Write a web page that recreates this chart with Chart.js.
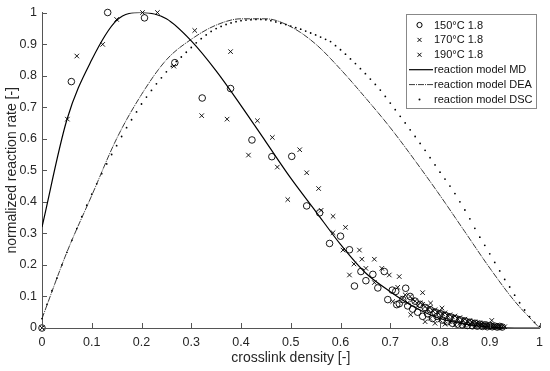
<!DOCTYPE html>
<html lang="en">
<head>
  <meta charset="UTF-8">
  <title>Normalized reaction rate vs crosslink density</title>
  <style>
    body {
      margin: 0;
      padding: 0;
      background: #fff;
    }
    .chart-container {
      width: 550px;
      height: 371px;
    }
  </style>
</head>
<body>

<div class="chart-container">
  <canvas id="rateChart"></canvas>
</div>

<script src="https://cdn.jsdelivr.net/npm/chart.js"></script>
<script>
  // measured points, 150 °C (circles)
  const t150x = [0, 0.059, 0.132, 0.206, 0.267, 0.322, 0.379, 0.422, 0.462, 0.502, 0.532, 0.558, 0.578, 0.60, 0.618,
    0.628, 0.641, 0.651, 0.665, 0.675, 0.688, 0.695, 0.704, 0.711, 0.713, 0.718, 0.731,
    0.725, 0.735, 0.74, 0.745, 0.75, 0.755, 0.76, 0.765, 0.77, 0.775, 0.78, 0.785, 0.79, 0.794, 0.80, 0.805, 0.81,
    0.815, 0.82, 0.825, 0.83, 0.835, 0.84, 0.845, 0.85, 0.855, 0.86, 0.865, 0.87, 0.875, 0.88, 0.885, 0.89,
    0.895, 0.90, 0.905, 0.91, 0.915, 0.92, 0.925];
  const t150y = [0, 0.781, 1.0, 0.983, 0.841, 0.729, 0.759, 0.596, 0.543, 0.544, 0.387, 0.365, 0.268, 0.291, 0.248,
    0.133, 0.179, 0.15, 0.17, 0.127, 0.179, 0.09, 0.12, 0.116, 0.074, 0.077, 0.126,
    0.09, 0.07, 0.1, 0.06, 0.085, 0.05, 0.075, 0.037, 0.065, 0.045, 0.058, 0.03, 0.05, 0.037, 0.045, 0.025, 0.04,
    0.02, 0.035, 0.015, 0.03, 0.012, 0.026, 0.01, 0.022, 0.008, 0.018, 0.007, 0.015, 0.006, 0.012, 0.005, 0.01,
    0.004, 0.008, 0.004, 0.006, 0.003, 0.005, 0.003];

  // measured points, 170 °C
  const t170x = [0, 0.051, 0.122, 0.202, 0.265, 0.307, 0.372, 0.433, 0.415, 0.473, 0.556, 0.561, 0.585, 0.638, 0.627,
    0.651, 0.683, 0.668, 0.718, 0.765, 0.741,
    0.725, 0.735, 0.745, 0.755, 0.765, 0.775, 0.785, 0.795, 0.805, 0.815, 0.825, 0.835, 0.845, 0.855, 0.865,
    0.875, 0.885, 0.895, 0.905, 0.915, 0.925,
    0.77, 0.79, 0.81, 0.83, 0.85, 0.87, 0.89, 0.91];
  const t170y = [0, 0.662, 0.899, 1.0, 0.83, 0.943, 0.662, 0.657, 0.548, 0.51, 0.442, 0.373, 0.302, 0.247, 0.203,
    0.189, 0.189, 0.144, 0.163, 0.112, 0.042,
    0.095, 0.08, 0.09, 0.07, 0.075, 0.06, 0.055, 0.05, 0.045, 0.04, 0.035, 0.03, 0.026, 0.022, 0.018,
    0.015, 0.012, 0.009, 0.007, 0.005, 0.004,
    0.02, 0.015, 0.012, 0.01, 0.008, 0.006, 0.004, 0.003];

  // measured points, 190 °C
  const t190x = [0.07, 0.15, 0.232, 0.321, 0.379, 0.463, 0.518, 0.494, 0.532, 0.585, 0.61, 0.605, 0.643, 0.668,
    0.618, 0.698, 0.705, 0.715, 0.781, 0.804, 0.904,
    0.73, 0.74, 0.75, 0.76, 0.77, 0.78, 0.79, 0.80, 0.81, 0.82, 0.83, 0.84, 0.85, 0.86, 0.87, 0.88, 0.89, 0.90,
    0.91, 0.92, 0.93,
    0.78, 0.80, 0.82, 0.84, 0.86, 0.88, 0.90, 0.92];
  const t190y = [0.862, 0.978, 1.0, 0.673, 0.876, 0.604, 0.565, 0.407, 0.492, 0.354, 0.319, 0.247, 0.218, 0.218,
    0.168, 0.168, 0.084, 0.129, 0.079, 0.063, 0.024,
    0.105, 0.1, 0.085, 0.08, 0.068, 0.065, 0.058, 0.052, 0.048, 0.042, 0.038, 0.033, 0.028, 0.024, 0.02, 0.017,
    0.014, 0.011, 0.008, 0.006, 0.004,
    0.03, 0.025, 0.02, 0.015, 0.012, 0.009, 0.006, 0.003];

  // reaction model curves
  const mdX = [0, 0.05, 0.1, 0.15, 0.2, 0.25, 0.3, 0.35, 0.4, 0.45, 0.5, 0.55, 0.6, 0.65, 0.7, 0.75, 0.8, 0.85, 0.9, 0.95, 1];
  const mdY = [0.32, 0.66, 0.85, 0.975, 1.0, 0.98, 0.91, 0.815, 0.705, 0.59, 0.475, 0.37, 0.265, 0.175, 0.115, 0.065, 0.03, 0.012, 0.003, 0, 0];

  const deaX = [0, 0.05, 0.1, 0.15, 0.2, 0.25, 0.3, 0.35, 0.4, 0.45, 0.5, 0.55, 0.6, 0.65, 0.7, 0.75, 0.8, 0.85, 0.9, 0.95, 1];
  const deaY = [0.03, 0.24, 0.42, 0.6, 0.74, 0.85, 0.915, 0.96, 0.98, 0.98, 0.955, 0.9, 0.82, 0.73, 0.635, 0.53, 0.42, 0.305, 0.19, 0.085, 0];

  const dscX = [0, 0.01, 0.02, 0.03, 0.04, 0.05, 0.06, 0.07, 0.08, 0.09, 0.1, 0.11, 0.12, 0.13, 0.14, 0.15, 0.16, 0.17,
    0.18, 0.19, 0.2, 0.21, 0.22, 0.23, 0.24, 0.25, 0.26, 0.27, 0.28, 0.29, 0.3, 0.31, 0.32, 0.33, 0.34, 0.35, 0.36,
    0.37, 0.38, 0.39, 0.4, 0.41, 0.42, 0.43, 0.44, 0.45, 0.46, 0.47, 0.48, 0.49, 0.5, 0.51, 0.52, 0.53, 0.54, 0.55,
    0.56, 0.57, 0.58, 0.59, 0.6, 0.61, 0.62, 0.63, 0.64, 0.65, 0.66, 0.67, 0.68, 0.69, 0.7, 0.71, 0.72, 0.73, 0.74,
    0.75, 0.76, 0.77, 0.78, 0.79, 0.8, 0.81, 0.82, 0.83, 0.84, 0.85, 0.86, 0.87, 0.88, 0.89, 0.9, 0.91, 0.92, 0.93,
    0.94, 0.95, 0.96, 0.97, 0.98, 0.99, 1];
  const dscY = [0.03, 0.075, 0.118, 0.158, 0.2, 0.24, 0.278, 0.315, 0.353, 0.389, 0.424, 0.457, 0.489, 0.52, 0.55, 0.578,
    0.607, 0.635, 0.66, 0.685, 0.71, 0.732, 0.753, 0.774, 0.793, 0.812, 0.829, 0.845, 0.859, 0.874, 0.889, 0.904,
    0.917, 0.929, 0.94, 0.949, 0.956, 0.962, 0.967, 0.971, 0.974, 0.976, 0.977, 0.978, 0.978, 0.977, 0.974, 0.97,
    0.966, 0.962, 0.957, 0.952, 0.947, 0.941, 0.935, 0.929, 0.922, 0.915, 0.908, 0.895, 0.882, 0.868, 0.853, 0.838,
    0.822, 0.806, 0.789, 0.772, 0.754, 0.734, 0.713, 0.692, 0.671, 0.65, 0.628, 0.607, 0.585, 0.563, 0.54, 0.517,
    0.494, 0.472, 0.45, 0.426, 0.4, 0.374, 0.346, 0.316, 0.288, 0.262, 0.235, 0.208, 0.181, 0.154, 0.13, 0.104,
    0.08, 0.057, 0.036, 0.018, 0.005];

  const tickValues = [0, 0.1, 0.2, 0.3, 0.4, 0.5, 0.6, 0.7, 0.8, 0.9, 1];
  const seriesLabels = ['150°C 1.8', '170°C 1.8', '190°C 1.8', 'reaction model MD', 'reaction model DEA', 'reaction model DSC'];

  const pts = (xs, ys) => xs.map((x, i) => ({x: x, y: ys[i]}));
  const INK = '#262626';
  const FONT = '"Liberation Sans", Arial, sans-serif';
  const DASHDOT = [6, 1, 1, 1];

  // MATLAB style ticks pointing into the plot
  const inwardTicks = {
    id: 'inwardTicks',
    afterDatasetsDraw(chart) {
      const {ctx, chartArea, scales} = chart;
      ctx.save();
      ctx.strokeStyle = '#555';
      ctx.lineWidth = 1;
      ctx.beginPath();
      tickValues.forEach(v => {
        const px = Math.round(scales.x.getPixelForValue(v)) + 0.5;
        ctx.moveTo(px, chartArea.bottom);
        ctx.lineTo(px, chartArea.bottom - 5);
        const py = Math.round(scales.y.getPixelForValue(v)) + 0.5;
        ctx.moveTo(chartArea.left, py);
        ctx.lineTo(chartArea.left + 5, py);
      });
      ctx.stroke();
      ctx.restore();
    }
  };

  // boxed legend in the upper right corner
  const boxLegend = {
    id: 'boxLegend',
    afterDraw(chart) {
      const ctx = chart.ctx;
      const bx = 406.5, by = 14.5, bw = 130, bh = 94;
      const mx = 419.5, tx = 434, row0 = 25, step = 14.9;
      ctx.save();
      ctx.fillStyle = '#fff';
      ctx.fillRect(bx, by, bw, bh);
      ctx.strokeStyle = '#888';
      ctx.lineWidth = 1;
      ctx.strokeRect(bx, by, bw, bh);
      ctx.font = '11px ' + FONT;
      ctx.textBaseline = 'middle';
      ctx.fillStyle = '#111';
      chart.data.datasets.forEach((ds, i) => {
        const y = row0 + i * step;
        ctx.strokeStyle = '#000';
        ctx.setLineDash([]);
        ctx.beginPath();
        if (i === 0) {
          ctx.lineWidth = 1;
          ctx.arc(mx, y, 2.6, 0, Math.PI * 2);
        } else if (i === 1 || i === 2) {
          ctx.lineWidth = 1;
          ctx.moveTo(mx - 2, y - 2); ctx.lineTo(mx + 2, y + 2);
          ctx.moveTo(mx - 2, y + 2); ctx.lineTo(mx + 2, y - 2);
        } else if (i === 3) {
          ctx.lineWidth = 1.2;
          ctx.moveTo(409, y); ctx.lineTo(433, y);
        } else if (i === 4) {
          ctx.lineWidth = 0.9;
          ctx.strokeStyle = '#222';
          ctx.setLineDash(DASHDOT);
          ctx.moveTo(409, y); ctx.lineTo(433, y);
        }
        ctx.stroke();
        if (i === 5) {
          ctx.fillStyle = '#000';
          ctx.beginPath();
          ctx.arc(mx, y, 1, 0, Math.PI * 2);
          ctx.fill();
          ctx.fillStyle = '#111';
        }
        ctx.setLineDash([]);
        ctx.fillText(ds.label, tx, y + 0.5);
      });
      ctx.restore();
    }
  };

  const ctx = document.getElementById('rateChart').getContext('2d');
  const rateChart = new Chart(ctx, {
    type: 'scatter',
    data: {
      datasets: [
        {
          label: seriesLabels[0],
          data: pts(t150x, t150y),
          clip: 6,
          pointStyle: 'circle',
          pointRadius: 3.3,
          borderColor: '#000',
          backgroundColor: 'rgba(0,0,0,0)',
          borderWidth: 0.9
        },
        {
          label: seriesLabels[1],
          data: pts(t170x, t170y),
          clip: 6,
          pointStyle: 'crossRot',
          pointRadius: 3.2,
          borderColor: '#000',
          borderWidth: 0.9
        },
        {
          label: seriesLabels[2],
          data: pts(t190x, t190y),
          clip: 6,
          pointStyle: 'crossRot',
          pointRadius: 3.2,
          borderColor: '#000',
          borderWidth: 0.9
        },
        {
          label: seriesLabels[3],
          data: pts(mdX, mdY),
          showLine: true,
          cubicInterpolationMode: 'monotone',
          pointRadius: 0,
          borderColor: '#000',
          borderWidth: 1.2
        },
        {
          label: seriesLabels[4],
          data: pts(deaX, deaY),
          showLine: true,
          cubicInterpolationMode: 'monotone',
          pointRadius: 0,
          borderColor: '#222',
          borderWidth: 0.9,
          borderDash: DASHDOT
        },
        {
          label: seriesLabels[5],
          data: pts(dscX, dscY),
          clip: 4,
          pointStyle: 'circle',
          pointRadius: 0.9,
          borderWidth: 0,
          backgroundColor: '#000'
        }
      ]
    },
    options: {
      responsive: true,
      maintainAspectRatio: false,
      animation: false,
      layout: {padding: {top: 11, right: 7, left: 0, bottom: 0}},
      scales: {
        x: {
          type: 'linear',
          min: 0,
          max: 1,
          afterFit: s => { s.height = 43; },
          afterBuildTicks: s => { s.ticks = tickValues.map(v => ({value: v})); },
          grid: {display: false, drawTicks: false},
          border: {display: true, color: '#555', width: 1},
          ticks: {
            padding: 7,
            color: INK,
            font: {family: FONT, size: 12.5},
            callback: v => String(v)
          },
          title: {
            display: true,
            text: 'crosslink density [-]',
            color: INK,
            font: {family: FONT, size: 14},
            padding: {top: 0, bottom: 4}
          }
        },
        y: {
          type: 'linear',
          min: 0,
          max: 1,
          afterFit: s => { s.width = 42; },
          afterBuildTicks: s => { s.ticks = tickValues.map(v => ({value: v})); },
          grid: {display: false, drawTicks: false},
          border: {display: true, color: '#555', width: 1},
          ticks: {
            padding: 5,
            color: INK,
            font: {family: FONT, size: 12.5},
            callback: v => String(v)
          },
          title: {
            display: true,
            text: 'normalized reaction rate [-]',
            color: INK,
            font: {family: FONT, size: 14},
            padding: {top: 4, bottom: 0}
          }
        }
      },
      plugins: {
        legend: {display: false},
        tooltip: {enabled: false}
      }
    },
    plugins: [inwardTicks, boxLegend]
  });
</script>

</body>
</html>
